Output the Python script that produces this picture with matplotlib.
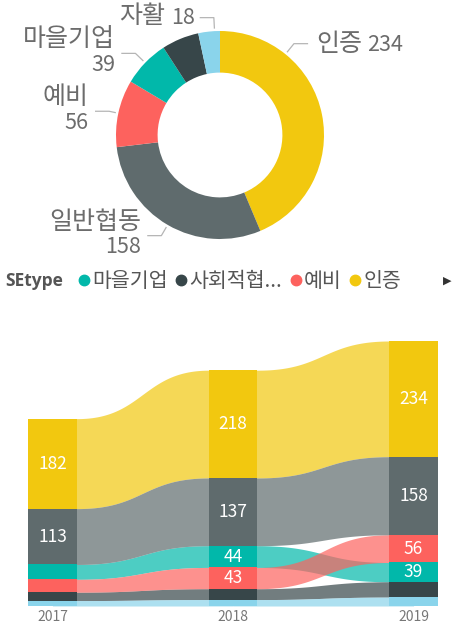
import numpy as np
import matplotlib.pyplot as plt
from matplotlib.lines import Line2D

plt.rcParams['font.family'] = ['Noto Sans CJK KR', 'DejaVu Sans']

W, H = 463, 626

# --- donut (2019 totals) ---
donut_labels = ['인증', '일반협동', '예비', '마을기업', '사회적협동조합', '자활']
donut_values = [234, 158, 56, 39, 31, 18]
donut_colors = ['#F2C80F', '#5F6B6D', '#FD625E', '#01B8AA', '#374649', '#8AD4EB']

# --- ribbon chart ---
years = ['2017', '2018', '2019']
se_types = ['마을기업', '사회적협동조합', '예비', '인증', '일반협동', '자활']
maeul = [30, 44, 39]
sahoe = [17, 22, 31]
yebi = [26, 43, 56]
injeung = [182, 218, 234]
ilban = [113, 137, 158]
jahwal = [11, 13, 18]
type_colors = ['#01B8AA', '#374649', '#FD625E', '#F2C80F', '#5F6B6D', '#8AD4EB']

legend_labels = ['마을기업', '사회적협...', '예비', '인증']

label_grey = '#6c6c6c'
name_fs = 18
num_fs = 15.5

fig = plt.figure(figsize=(W / 100, H / 100), dpi=100)

# donut axes: 1 unit = 104 px, centre at (220, 135) px
R = 104
ax1 = fig.add_axes([0, (H - 260) / H, 1, 260 / H])
wedges, _ = ax1.pie(donut_values, colors=donut_colors, startangle=90, counterclock=False,
                    radius=1, wedgeprops=dict(width=0.4, linewidth=0))
ax1.set_xlim(-220 / R, (W - 220) / R)
ax1.set_ylim(-125 / R, 135 / R)
ax1.set_aspect('auto')
ax1.axis('off')

# label layout: (anchor angle override, elbow radius, side, two-line)
layout = {
    '인증': (39, 1.13, 1, False),
    '일반협동': (None, 1.12, -1, True),
    '예비': (None, 1.09, -1, True),
    '마을기업': (None, 1.13, -1, True),
    '자활': (-3, 1.13, -1, False),
}
total = sum(donut_values)
cum = 0
for name, val in zip(donut_labels, donut_values):
    mid = (cum + val / 2) / total * 360
    cum += val
    if name not in layout:
        continue
    ang, re, side, two = layout[name]
    if ang is None:
        ang = mid
    a = np.radians(ang)
    p0 = (1.03 * np.sin(a), 1.03 * np.cos(a))
    p1 = (re * np.sin(a), re * np.cos(a))
    p2 = (p1[0] + side * 0.13, p1[1])
    ax1.plot([p0[0], p1[0], p2[0]], [p0[1], p1[1], p2[1]], color='#b5b5b5', lw=0.9)
    ha = 'left' if side > 0 else 'right'
    if two:
        ax1.annotate(name, p2, xytext=(side * 5, 10), textcoords='offset points',
                     ha=ha, va='center', fontsize=name_fs, color=label_grey)
        ax1.annotate(str(val), p2, xytext=(side * 5, -8.5), textcoords='offset points',
                     ha=ha, va='center', fontsize=num_fs, color=label_grey)
    elif side > 0:
        t = ax1.annotate(name, p2, xytext=(6, 0), textcoords='offset points',
                         ha='left', va='center', fontsize=name_fs, color=label_grey)
        ax1.annotate(str(val), (1, 0.5), xycoords=t, xytext=(4, -1), textcoords='offset points',
                     ha='left', va='center', fontsize=num_fs, color=label_grey)
    else:
        t = ax1.annotate(str(val), p2, xytext=(-4, 0), textcoords='offset points',
                         ha='right', va='center', fontsize=num_fs, color=label_grey)
        ax1.annotate(name, (0, 0.5), xycoords=t, xytext=(-4, 1), textcoords='offset points',
                     ha='right', va='center', fontsize=name_fs, color=label_grey)

# legend row
fig.text(5 / W, (H - 281) / H, 'SEtype', fontsize=12.5, fontweight='bold', color='#555555',
         va='center', ha='left', family=['Open Sans', 'DejaVu Sans'])
handles = [Line2D([], [], marker='o', ls='', color=c, markersize=7.5) for c in type_colors[:4]]
fig.legend(handles, legend_labels, loc='center left', bbox_to_anchor=(78 / W, (H - 281) / H),
           ncol=4, frameon=False, fontsize=14.8, handlelength=0.6, handletextpad=0.1,
           columnspacing=0.35, borderpad=0, borderaxespad=0, labelcolor='#555555')
fig.text(447 / W, (H - 281) / H, '▶', fontsize=8, color='#333333', ha='center', va='center',
         family='DejaVu Sans')

# ribbon axes
vals = np.array([maeul, sahoe, yebi, injeung, ilban, jahwal], dtype=float)
x = np.arange(len(years))
bw = 49 / 181
px_per_unit = 265 / 536
ax2 = fig.add_axes([28 / W, (H - 606) / H, 410 / W, 270 / H])

bottoms = np.zeros_like(vals)
for j in range(vals.shape[1]):
    acc = 0
    for i in np.argsort(vals[:, j], kind='stable'):
        bottoms[i, j] = acc
        acc += vals[i, j]

# cubic bezier easing with horizontal tangents at both ends
u = np.linspace(0, 1, 400)
bez_x = 1.5 * (1 - u) ** 2 * u + 1.5 * (1 - u) * u ** 2 + u ** 3
bez_y = 3 * u ** 2 - 2 * u ** 3

for j in range(len(years) - 1):
    xs = np.linspace(x[j], x[j + 1], 300)
    t = np.clip((xs - (x[j] + bw / 2)) / (1 - bw), 0, 1)
    s = np.interp(t, bez_x, bez_y)
    for i in range(len(se_types)):
        lo = bottoms[i, j] + (bottoms[i, j + 1] - bottoms[i, j]) * s
        top0 = bottoms[i, j] + vals[i, j]
        top1 = bottoms[i, j + 1] + vals[i, j + 1]
        hi = top0 + (top1 - top0) * s
        ax2.fill_between(xs, lo, hi, color=type_colors[i], alpha=0.7, lw=0, zorder=2)

for i in range(len(se_types)):
    ax2.bar(x, vals[i], bottom=bottoms[i], width=bw, color=type_colors[i], lw=0, zorder=3)
    for j in range(len(years)):
        if vals[i, j] >= 35:
            ax2.text(x[j], bottoms[i, j] + vals[i, j] / 2, f'{int(vals[i, j])}', color='white',
                     ha='center', va='center', fontsize=12.5, zorder=4)

ax2.set_xlim(-bw / 2, x[-1] + bw / 2)
ax2.set_ylim(0, 270 / px_per_unit)
ax2.set_xticks(x, years)
ax2.set_yticks([])
ax2.tick_params(axis='x', length=0, pad=3, labelsize=10, labelcolor='#777777')
for sp in ax2.spines.values():
    sp.set_visible(False)

fig.savefig('out.png', dpi=100)
